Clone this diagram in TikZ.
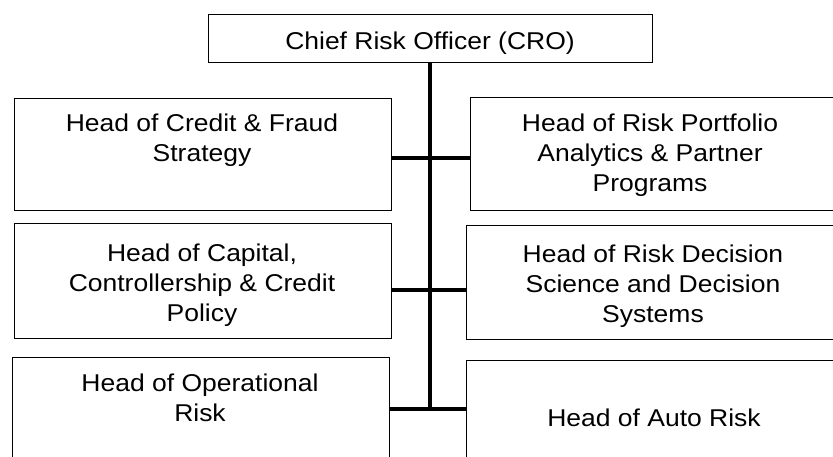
\documentclass[tikz,border=0pt]{standalone}
\usepackage{fontspec}
\setmainfont{Liberation Sans}[FakeStretch=1.09]
\begin{document}
\begin{tikzpicture}[x=1pt,y=-1pt,
  box/.style={draw=black,line width=1.4pt,rectangle,inner sep=0pt,anchor=north west},
  label/.style={align=center,anchor=base,inner sep=0pt,font=\fontsize{24.3}{30}\selectfont},
  link/.style={draw=black,line width=3.4pt}]
\useasboundingbox (0,0) rectangle (833,457);

% chief officer at the top
\node[box,minimum width=444pt,minimum height=48pt] (cro) at (208,14) {};
\node[label] (crot) at (430,50) {Chief Risk Officer (CRO)};

% left column (label anchors sit on the baseline of the last line)
\node[box,minimum width=377pt,minimum height=112pt] (l1) at (14,98) {};
\node[label] (l1t) at (202,162) {Head of Credit \& Fraud\\Strategy};
\node[box,minimum width=377pt,minimum height=115pt] (l2) at (14,223) {};
\node[label] (l2t) at (202,321) {Head of Capital,\\Controllership \& Credit\\Policy};
\node[box,minimum width=377pt,minimum height=120pt] (l3) at (12,357) {};
\node[label] (l3t) at (200,421) {Head of Operational\\Risk};

% right column
\node[box,minimum width=380pt,minimum height=113pt] (r1) at (470,97) {};
\node[label] (r1t) at (650,192) {Head of Risk Portfolio\\Analytics \& Partner\\Programs};
\node[box,minimum width=380pt,minimum height=114pt] (r2) at (466,225) {};
\node[label] (r2t) at (653,322) {Head of Risk Decision\\Science and Decision\\Systems};
\node[box,minimum width=380pt,minimum height=120pt] (r3) at (466,360) {};
\node[label] (r3t) at (654,426) {Head of Auto Risk};

% reporting lines
\coordinate (j1) at (430,158);
\coordinate (j2) at (430,290);
\coordinate (j3) at (430,409);
\draw[link] (cro.south -| j1) -- (j3);
\draw[link] (l1.east |- j1) -- (j1) -- (r1.west |- j1);
\draw[link] (l2.east |- j2) -- (j2) -- (r2.west |- j2);
\draw[link] (l3.east |- j3) -- (j3) -- (r3.west |- j3);
\end{tikzpicture}
\end{document}
